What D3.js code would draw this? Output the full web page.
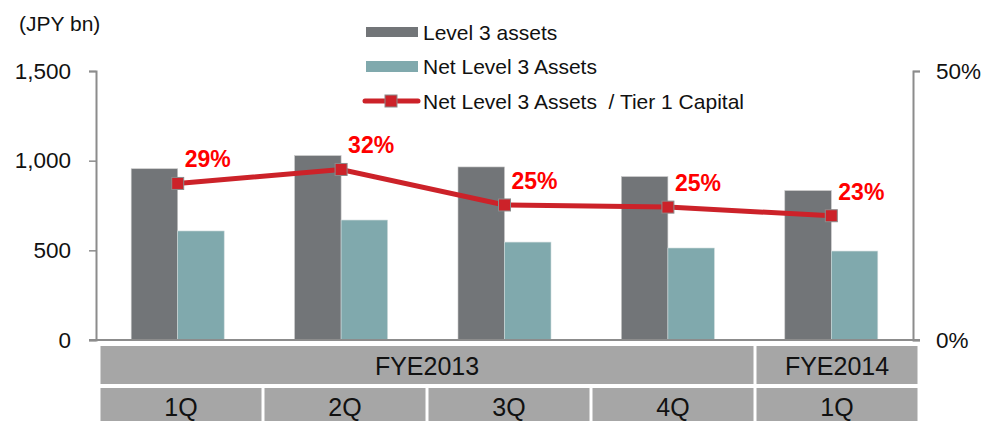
<!DOCTYPE html>
<html><head><meta charset="utf-8">
<script src="https://cdnjs.cloudflare.com/ajax/libs/d3/7.8.5/d3.min.js"></script>
<style>body{margin:0;background:#fff;}svg{display:block;font-family:"Liberation Sans",Arial,sans-serif;}text{white-space:pre;}</style>
</head><body><svg id="c" width="987" height="421"></svg>
<script>
const categories = ["FYE2013 1Q","FYE2013 2Q","FYE2013 3Q","FYE2013 4Q","FYE2014 1Q"];
const fiscalYears = ["FYE2013","FYE2013","FYE2013","FYE2013","FYE2014"];
const quarters = ["1Q","2Q","3Q","4Q","1Q"];
const level3Assets = [955, 1028, 965, 911, 833];
const netLevel3Assets = [608, 669, 546, 513, 496];
const ratioPct = [29.1, 31.7, 25.1, 24.7, 23.1];
const ratioLabels = ["29%","32%","25%","25%","23%"];
const leftTicks = [0, 500, 1000, 1500];
const rightTicks = [0, 50];
const seriesNames = ["Level 3 assets","Net Level 3 Assets","Net Level 3 Assets  / Tier 1 Capital"];

const svg = d3.select("#c");
const L = 96, R = 913, T = 71, B = 340;
const x = d3.scaleBand().domain(categories).range([L, R]);
const y = d3.scaleLinear().domain([0, 1500]).range([B, T]);
const y2 = d3.scaleLinear().domain([0, 50]).range([B, T]);
const barW = 46.5;
const C = {gray:"#727578", teal:"#80a9ad", red:"#cc2229", label:"#ff0000", axis:"#8c8c8c", cell:"#a6a6a6"};

// bars
svg.append("g").selectAll("rect").data(categories).join("rect")
  .attr("x", d => x(d) + x.bandwidth()/2 - barW)
  .attr("y", (d,i) => y(level3Assets[i]))
  .attr("width", barW)
  .attr("height", (d,i) => B - y(level3Assets[i]))
  .attr("fill", C.gray).attr("stroke","#c8c8c8").attr("stroke-width",0.6);
svg.append("g").selectAll("rect").data(categories).join("rect")
  .attr("x", d => x(d) + x.bandwidth()/2)
  .attr("y", (d,i) => y(netLevel3Assets[i]))
  .attr("width", barW)
  .attr("height", (d,i) => B - y(netLevel3Assets[i]))
  .attr("fill", C.teal).attr("stroke","#d0dcdd").attr("stroke-width",0.6);

// axes
const fmt = d3.format(",");
const ax = svg.append("g").attr("transform", `translate(${L},0)`)
  .call(d3.axisLeft(y).tickValues(leftTicks).tickFormat(fmt).tickSize(7).tickPadding(18));
const ax2 = svg.append("g").attr("transform", `translate(${R},0)`)
  .call(d3.axisRight(y2).tickValues(rightTicks).tickFormat(d => d + "%").tickSize(7).tickPadding(16));
[ax, ax2].forEach(g => {
  g.select(".domain").attr("stroke", C.axis).attr("stroke-width", 2);
  g.selectAll(".tick line").attr("stroke", C.axis).attr("stroke-width", 1.5);
  g.selectAll(".tick text").attr("font-size", 22.5).attr("fill", "#111").attr("font-family","Liberation Sans, Arial, sans-serif");
});
svg.append("line").attr("x1", L - 7).attr("x2", R + 7).attr("y1", B).attr("y2", B)
  .attr("stroke", C.axis).attr("stroke-width", 2);

// line
const line = d3.line().x((d,i) => x(categories[i]) + x.bandwidth()/2).y(d => y2(d));
svg.append("path").datum(ratioPct).attr("d", line).attr("fill","none")
  .attr("stroke", C.red).attr("stroke-width", 5);
svg.append("g").selectAll("rect").data(ratioPct).join("rect")
  .attr("x", (d,i) => x(categories[i]) + x.bandwidth()/2 - 6)
  .attr("y", d => y2(d) - 6).attr("width", 12).attr("height", 12)
  .attr("fill", C.red).attr("stroke", "#8a8a8a").attr("stroke-width", 1);
svg.append("g").selectAll("text").data(ratioPct).join("text")
  .attr("x", (d,i) => x(categories[i]) + x.bandwidth()/2 + 7)
  .attr("y", d => y2(d) - 16)
  .attr("font-size", 23).attr("font-weight", "bold").attr("fill", C.label)
  .text((d,i) => ratioLabels[i]);

// unit label
svg.append("text").attr("x", 19).attr("y", 31).attr("font-size", 21).attr("fill","#111").text("(JPY bn)");

// legend
const lg = svg.append("g");
lg.append("rect").attr("x",366).attr("y",27).attr("width",52).attr("height",10).attr("fill",C.gray);
lg.append("rect").attr("x",366).attr("y",61).attr("width",52).attr("height",11).attr("fill",C.teal);
lg.append("line").attr("x1",365).attr("x2",418).attr("y1",101).attr("y2",101).attr("stroke",C.red).attr("stroke-width",5).attr("stroke-linecap","round");
lg.append("rect").attr("x",385).attr("y",95).attr("width",12).attr("height",12).attr("fill",C.red).attr("stroke","#8a8a8a").attr("stroke-width",1);
[40, 74, 109].forEach((yy,i) => lg.append("text").attr("x",423).attr("y",yy).attr("font-size",21).attr("fill","#111").text(seriesNames[i]));

// category table
const xt = d3.scaleBand().domain(categories).range([99, 919]);
const tb = svg.append("g");
const groups = [];
fiscalYears.forEach((fy,i) => {
  if (groups.length && groups[groups.length-1].name === fy) groups[groups.length-1].end = i;
  else groups.push({name: fy, start: i, end: i});
});
groups.forEach(g => {
  const x0 = xt(categories[g.start]) + 1.5, x1 = xt(categories[g.end]) + xt.step() - 1.5;
  tb.append("rect").attr("x", x0).attr("y", 346).attr("width", x1 - x0).attr("height", 38).attr("fill", C.cell);
  tb.append("text").attr("x", (x0+x1)/2).attr("y", 375).attr("text-anchor","middle").attr("font-size",25).attr("fill","#111").text(g.name);
});
categories.forEach((c,i) => {
  const x0 = xt(c) + 1.5, w = xt.step() - 3;
  tb.append("rect").attr("x", x0).attr("y", 388).attr("width", w).attr("height", 33).attr("fill", C.cell);
  tb.append("text").attr("x", x0 + w/2).attr("y", 416).attr("text-anchor","middle").attr("font-size",25).attr("fill","#111").text(quarters[i]);
});
</script></body></html>
